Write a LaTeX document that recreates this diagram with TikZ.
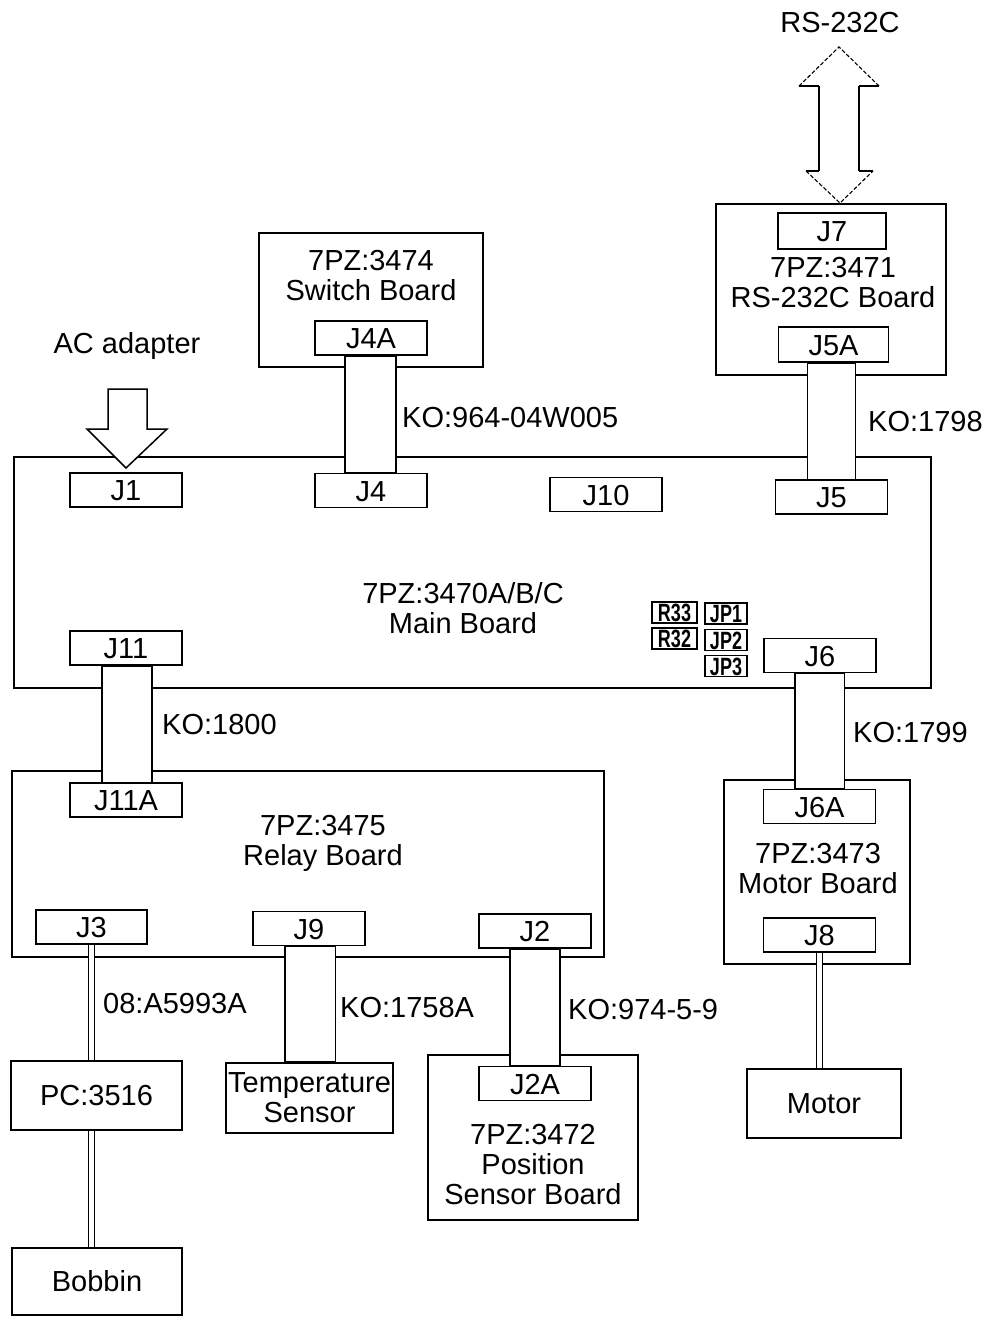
\documentclass[tikz,border=0pt]{standalone}
\usepackage{fontspec}
\setmainfont{Liberation Sans}
\usepackage{graphicx}
\usetikzlibrary{calc}
\pgfdeclarelayer{bg}\pgfdeclarelayer{mid}\pgfsetlayers{bg,mid,main}
\newcommand\dlab{\fontsize{29}{30}\selectfont}
\newcommand\smlab{\fontsize{25}{25}\selectfont\bfseries}
\tikzset{
  board/.style={draw, fill=white, line width=1.6pt, inner sep=0pt},
  conn/.style={draw, fill=white, line width=1.5pt, minimum width=112pt, minimum height=34pt,
    inner sep=0pt, font=\dlab, text height=21pt, text depth=0pt},
  cable/.style={draw, fill=white, line width=1.5pt},
  dbl/.style={line width=1.3pt, double=white, double distance=5pt},
  lbl/.style={inner sep=0pt, font=\dlab, text height=21pt, text depth=0pt},
  ttl/.style={inner sep=0pt, font=\dlab, align=center},
  tiny/.style={draw, line width=1.5pt, inner xsep=0.5pt, inner ysep=1pt, minimum height=21pt, font=\smlab, text height=18pt, text depth=0pt},
  headedge/.style={line width=1.1pt, dashed, dash pattern=on 4pt off 2pt},
  shaft/.style={line width=1.5pt}
}
\begin{document}
\begin{tikzpicture}[x=1pt,y=-1pt]
\useasboundingbox (0,0) rectangle (986,1317);
% boards
\begin{pgfonlayer}{bg}
\node[board, minimum width=917pt, minimum height=231pt] (main) at (472.5,572.5) {};
\node[board, minimum width=224pt, minimum height=134pt] (sw) at (371,300) {};
\node[board, minimum width=230pt, minimum height=171pt] (rs) at (831,289.5) {};
\node[board, minimum width=592pt, minimum height=186pt] (relay) at (308,864) {};
\node[board, minimum width=186pt, minimum height=184pt] (motorb) at (817,872) {};
\node[board, minimum width=210pt, minimum height=165pt] (pos) at (533,1137.5) {};
\node[board, minimum width=171pt, minimum height=69pt, font=\dlab] (pc) at (96.5,1095.5) {PC:3516};
\node[board, minimum width=167pt, minimum height=70pt, font=\dlab, align=center] (temp) at (309.5,1098) {Temperature\\Sensor};
\node[board, minimum width=154pt, minimum height=69pt, font=\dlab] (motor) at (824,1103.5) {Motor};
\node[board, minimum width=170pt, minimum height=67pt, font=\dlab] (bobbin) at (97,1281.5) {Bobbin};
\end{pgfonlayer}
% connectors
\node[conn] (J1) at (126,490) {J1};
\node[conn] (J4) at (371,490.5) {J4};
\node[conn] (J10) at (606,494.5) {J10};
\node[conn] (J5) at (831.5,497) {J5};
\node[conn] (J11) at (126,648) {J11};
\node[conn] (J6) at (820,655.5) {J6};
\node[conn] (J4A) at (371,338) {J4A};
\node[conn, minimum width=108pt, minimum height=36pt] (J7) at (832,231) {J7};
\node[conn, minimum width=110pt, minimum height=35pt] (J5A) at (833.5,344.5) {J5A};
\node[conn] (J11A) at (126,800) {J11A};
\node[conn, minimum width=111pt] (J3) at (91.5,927) {J3};
\node[conn] (J9) at (309,928.5) {J9};
\node[conn] (J2) at (535,931) {J2};
\node[conn] (J2A) at (535,1083.5) {J2A};
\node[conn] (J6A) at (819.5,806.5) {J6A};
\node[conn] (J8) at (819.5,935) {J8};
% cables
\begin{pgfonlayer}{mid}
\draw[cable] ([xshift=-26pt]J4A.south) rectangle ([xshift=25pt]J4.north);
\draw[cable] ([xshift=-26pt]J5A.south) rectangle ([xshift=24pt]J5.north);
\draw[cable] ([xshift=-24pt]J11.south) rectangle ([xshift=26pt]J11A.north);
\draw[cable] ([xshift=-25pt]J6.south) rectangle ([xshift=25pt]J6A.north);
\draw[cable] ([xshift=-24pt]J9.south) rectangle ([xshift=26pt]temp.north);
\draw[cable] ([xshift=-25pt]J2.south) rectangle ([xshift=25pt]J2A.north);
\draw[dbl] (J3.south) -- (J3.south |- pc.north);
\draw[dbl] (J3.south |- pc.south) -- (J3.south |- bobbin.north);
\draw[dbl] (J8.south) -- (J8.south |- motor.north);
\end{pgfonlayer}
% board titles
\node[ttl] (swt) at (371,275.5) {7PZ:3474\\Switch Board};
\node[ttl] (rst) at (833,283) {7PZ:3471\\RS-232C Board};
\node[ttl] (maint) at (463,608) {7PZ:3470A/B/C\\Main Board};
\node[ttl] (relayt) at (323,843) {7PZ:3475\\Relay Board};
\node[ttl] (motort) at (818,868.5) {7PZ:3473\\Motor Board};
\node[ttl] (post) at (533,1165) {7PZ:3472\\Position\\Sensor Board};
% cable labels
\node[lbl, anchor=west] (c1) at (402,417) {KO:964-04W005};
\node[lbl, anchor=west] (c2) at (868,421) {KO:1798};
\node[lbl, anchor=west] (c3) at (162,724) {KO:1800};
\node[lbl, anchor=west] (c4) at (853,732) {KO:1799};
\node[lbl, anchor=west] (c5) at (103,1003) {08:A5993A};
\node[lbl, anchor=west] (c6) at (340,1007) {KO:1758A};
\node[lbl, anchor=west] (c7) at (568,1009) {KO:974-5-9};
% jumpers
\node[tiny, minimum width=45pt] (R33) at (674.5,612.5) {\scalebox{0.72}[1]{R33}};
\node[tiny, minimum width=42pt] (JP1) at (726,613.5) {\scalebox{0.72}[1]{JP1}};
\node[tiny, minimum width=45pt] (R32) at (674.5,638.5) {\scalebox{0.72}[1]{R32}};
\node[tiny, minimum width=42pt] (JP2) at (726,640) {\scalebox{0.72}[1]{JP2}};
\node[tiny, minimum width=42pt] (JP3) at (726,666) {\scalebox{0.72}[1]{JP3}};
% external labels
\node[lbl] (ac) at (127,343) {AC adapter};
\node[lbl] (rslbl) at (840,22) {RS-232C};
% AC adapter arrow
\draw[line width=1.5pt, fill=white, line join=miter]
  (108,389) -- (147,389) -- (147,429) -- (167,429) -- (126,468) -- (87,429) -- (108,429) -- cycle;
% RS-232C double arrow
\coordinate (tt) at (839,47);
\coordinate (bt) at (840,203);
\draw[shaft] (819,86) -- (819,171);
\draw[shaft] (859,86) -- (859,171);
\draw[shaft] (799,86) -- (819,86);
\draw[shaft] (859,86) -- (879,86);
\draw[shaft] (806,171) -- (819,171);
\draw[shaft] (859,171) -- (873,171);
\draw[headedge] (799,86) -- (tt) -- (879,86);
\draw[headedge] (806,171) -- (bt) -- (873,171);
\end{tikzpicture}
\end{document}
